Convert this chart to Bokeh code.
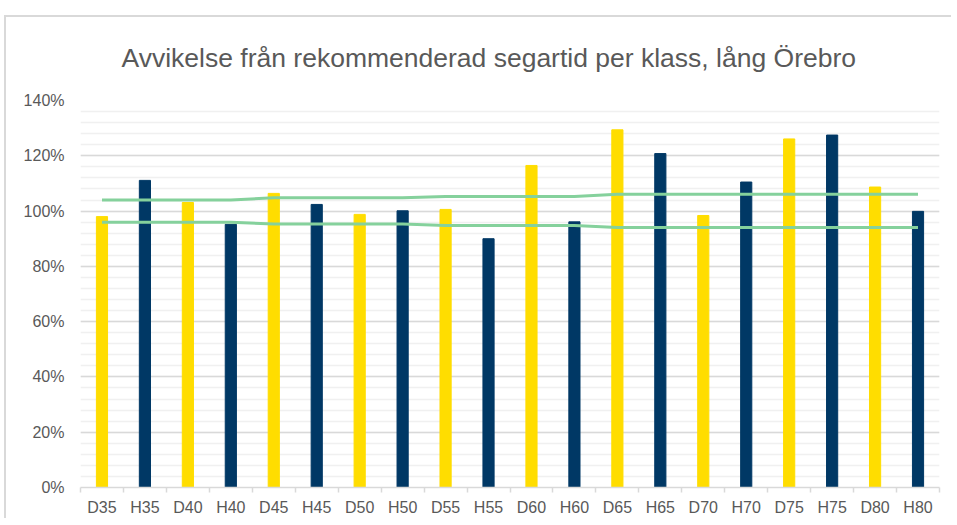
from bokeh.plotting import figure
from bokeh.models import FixedTicker, NumeralTickFormatter, ColumnDataSource, Range1d
from bokeh.embed import file_html
from bokeh.resources import INLINE

title_text = "Avvikelse från rekommenderad segartid per klass, lång Örebro"

classes = ["D35", "H35", "D40", "H40", "D45", "H45", "D50", "H50", "D55", "H55",
           "D60", "H60", "D65", "H65", "D70", "H70", "D75", "H75", "D80", "H80"]
deviation = [0.980, 1.111, 1.031, 0.952, 1.064, 1.024, 0.988, 1.001, 1.006, 0.900,
             1.165, 0.961, 1.294, 1.208, 0.984, 1.105, 1.261, 1.275, 1.087, 0.999]
upper_limit = [1.040, 1.040, 1.040, 1.040, 1.048, 1.048, 1.048, 1.048, 1.053, 1.053,
               1.053, 1.053, 1.061, 1.061, 1.061, 1.061, 1.061, 1.061, 1.061, 1.061]
lower_limit = [0.960, 0.960, 0.960, 0.960, 0.953, 0.953, 0.953, 0.953, 0.948, 0.948,
               0.948, 0.948, 0.941, 0.941, 0.941, 0.941, 0.941, 0.941, 0.941, 0.941]
y_ticks = [0.0, 0.2, 0.4, 0.6, 0.8, 1.0, 1.2, 1.4]

YELLOW = "#FFDD00"
NAVY = "#003865"
GREEN = "#85D19C"
TEXT = "#595959"
FONT = "Liberation Sans"

xpos = [i + 0.5 for i in range(len(classes))]
colors = [YELLOW if c.startswith("D") else NAVY for c in classes]
src = ColumnDataSource(dict(x=xpos, top=deviation, color=colors, cls=classes,
                            up=upper_limit, lo=lower_limit))

p = figure(frame_width=859, frame_height=387, output_backend="svg", toolbar_location=None,
           x_range=Range1d(0, len(classes)), y_range=Range1d(0, 1.4),
           min_border_left=74, min_border_right=12, min_border_top=83, min_border_bottom=26)
p.styles = {"margin-left": "4px", "margin-top": "15px",
            "border-top": "2px solid #d9d9d9", "border-left": "2px solid #d9d9d9"}

p.vbar(x="x", top="top", width=0.26, color="color", source=src)
p.line(x="x", y="up", line_color=GREEN, line_width=3, source=src)
p.line(x="x", y="lo", line_color=GREEN, line_width=3, source=src)

p.title.text = title_text
p.title.align = "left"
p.title.vertical_align = "top"
p.title.offset = 41
p.title.standoff = 51
p.title.text_font = FONT
p.title.text_font_size = "26.5px"
p.title.text_font_style = "normal"
p.title.text_color = TEXT

p.outline_line_color = None
p.xgrid.grid_line_color = None
p.ygrid.grid_line_color = "#d9d9d9"
p.ygrid.grid_line_width = 1.5
p.ygrid.minor_grid_line_color = "#f0f0f0"
p.ygrid.minor_grid_line_width = 1.5

yax = p.yaxis[0]
yax.ticker = FixedTicker(ticks=y_ticks, minor_ticks=[round(i * 0.04, 2) for i in range(36)])
yax.formatter = NumeralTickFormatter(format="0%")
yax.axis_line_color = None
yax.major_tick_line_color = None
yax.minor_tick_line_color = None
yax.major_tick_out = 0
yax.major_tick_in = 0
yax.major_label_standoff = 12
yax.major_label_text_font = FONT
yax.major_label_text_font_size = "16px"
yax.major_label_text_color = TEXT

xax = p.xaxis[0]
xax.ticker = FixedTicker(ticks=xpos, minor_ticks=list(range(len(classes) + 1)))
xax.major_label_overrides = {x: c for x, c in zip(xpos, classes)}
xax.axis_line_color = "#d9d9d9"
xax.axis_line_width = 1.5
xax.major_tick_line_color = None
xax.major_tick_out = 0
xax.major_tick_in = 0
xax.minor_tick_line_color = "#d9d9d9"
xax.minor_tick_line_width = 1.5
xax.minor_tick_out = 5
xax.minor_tick_in = 0
xax.major_label_standoff = 6
xax.major_label_text_font = FONT
xax.major_label_text_font_size = "16px"
xax.major_label_text_color = TEXT

open("out.html", "w").write(file_html(p, INLINE))
